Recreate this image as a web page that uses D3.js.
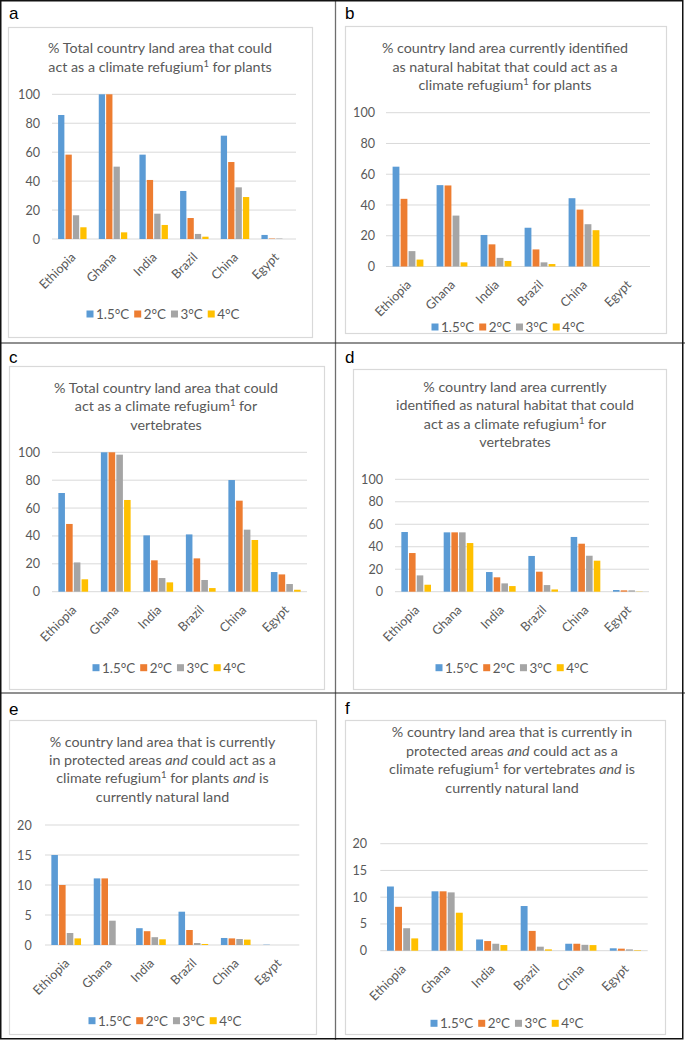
<!DOCTYPE html>
<html><head><meta charset="utf-8">
<script src="https://cdn.jsdelivr.net/npm/d3@7"></script>
<style>body{margin:0;background:#fff} svg{display:block}</style>
</head><body>
<svg id="chart" width="685" height="1040"></svg>
<script>
const categories = ["Ethiopia", "Ghana", "India", "Brazil", "China", "Egypt"];
const scenarios = ["1.5°C", "2°C", "3°C", "4°C"];
const seriesColors = ["#5B9BD5", "#ED7D31", "#A5A5A5", "#FFC000"];

// rows: 1.5°C, 2°C, 3°C, 4°C ; columns follow categories
const valuesA = [
  [85.7, 100, 58.3, 33.2, 71.4, 2.8],
  [58.3, 100, 40.8, 14.5, 53.2, 0.3],
  [16.4, 50, 17.5, 3.5, 35.7, 0.3],
  [8.1, 4.6, 9.7, 1.6, 29, 0]
];
const valuesB = [
  [64.9, 52.9, 20.5, 25.2, 44.4, 0],
  [44, 52.7, 14.4, 11.1, 37, 0],
  [10, 33.1, 5.6, 2.7, 27.5, 0],
  [4.5, 2.7, 3.6, 1.6, 23.6, 0]
];
const valuesC = [
  [70.8, 100, 40.4, 41.1, 80.1, 14.1],
  [48.6, 100, 22.5, 23.9, 65.3, 12.4],
  [21, 98.3, 9.8, 8.4, 44.5, 5.5],
  [8.9, 65.8, 6.7, 2.6, 37.1, 1.4]
];
const valuesD = [
  [53.1, 52.8, 17.5, 31.8, 48.7, 1.5],
  [34.4, 52.8, 12.8, 17.8, 42.7, 1.2],
  [14.5, 52.8, 7.4, 5.9, 32, 1.2],
  [6.2, 43.3, 5, 2, 27.6, 0.2]
];
const valuesE = [
  [15, 11.1, 2.8, 5.55, 1.17, 0.05],
  [10, 11.1, 2.3, 2.5, 1.1, 0],
  [2, 4.05, 1.3, 0.33, 1.0, 0],
  [1.1, 0, 0.95, 0.17, 0.9, 0]
];
const valuesF = [
  [12, 11.1, 2.1, 8.35, 1.3, 0.45],
  [8.2, 11.1, 1.8, 3.7, 1.3, 0.38],
  [4.2, 10.9, 1.3, 0.75, 1.1, 0.25],
  [2.3, 7.1, 1.06, 0.25, 1.05, 0.1]
];
const ticksPct = [0, 20, 40, 60, 80, 100];
const ticksSmall = [0, 5, 10, 15, 20];

const titleA = [
  [{t: "% Total country land area that could"}],
  [{t: "act as a climate refugium"}, {t: "1", sup: true}, {t: " for plants"}]
];
const titleB = [
  [{t: "% country land area currently identified"}],
  [{t: "as natural habitat that could act as a"}],
  [{t: "climate refugium"}, {t: "1", sup: true}, {t: " for plants"}]
];
const titleC = [
  [{t: "% Total country land area that could"}],
  [{t: "act as a climate refugium"}, {t: "1", sup: true}, {t: " for"}],
  [{t: "vertebrates"}]
];
const titleD = [
  [{t: "% country land area currently"}],
  [{t: "identified as natural habitat that could"}],
  [{t: "act as a climate refugium"}, {t: "1", sup: true}, {t: " for"}],
  [{t: "vertebrates"}]
];
const titleE = [
  [{t: "% country land area that is currently"}],
  [{t: "in protected areas "}, {t: "and", it: true}, {t: " could act as a"}],
  [{t: "climate refugium"}, {t: "1", sup: true}, {t: " for plants "}, {t: "and", it: true}, {t: " is"}],
  [{t: "currently natural land"}]
];
const titleF = [
  [{t: "% country land area that is currently in"}],
  [{t: "protected areas "}, {t: "and", it: true}, {t: " could act as a"}],
  [{t: "climate refugium"}, {t: "1", sup: true}, {t: " for vertebrates "}, {t: "and", it: true}, {t: " is"}],
  [{t: "currently natural land"}]
];

const panels = [
  {letter: "a", values: valuesA, title: titleA, ticks: ticksPct, frame: [8, 27, 312, 337], lp: [9, 19],
   tx: 160, ty: [53, 72], px: [52, 296], y0: 239, yTop: 94.3, tickX: 40, legY: 314, legX: 163},
  {letter: "b", values: valuesB, title: titleB, ticks: ticksPct, frame: [345, 26, 666, 333], lp: [345, 19],
   tx: 505, ty: [53, 71.5, 90], px: [386, 650], y0: 266.5, yTop: 112.7, tickX: 375, legY: 327, legX: 508},
  {letter: "c", values: valuesC, title: titleC, ticks: ticksPct, frame: [9, 366, 324, 689], lp: [9, 363],
   tx: 166, ty: [392.5, 411, 429.5], px: [52, 307], y0: 591.7, yTop: 452.3, tickX: 40, legY: 667.7, legX: 169},
  {letter: "d", values: valuesD, title: titleD, ticks: ticksPct, frame: [353, 369, 666, 689], lp: [345, 363],
   tx: 515, ty: [392, 410.3, 428.7, 447], px: [395, 649], y0: 591.7, yTop: 479.3, tickX: 383, legY: 667.7, legX: 512},
  {letter: "e", values: valuesE, title: titleE, ticks: ticksSmall, frame: [9, 720, 316, 1034], lp: [9, 715],
   tx: 162.5, ty: [746.7, 765, 783.3, 801.7], px: [45, 299.3], y0: 945, yTop: 825, tickX: 31.7, legY: 1020.7, legX: 165},
  {letter: "f", values: valuesF, title: titleF, ticks: ticksSmall, frame: [345, 720, 665, 1034], lp: [345, 714],
   tx: 512, ty: [737.3, 755.7, 774, 792.7], px: [380.3, 647.7], y0: 950.7, yTop: 843.7, tickX: 367, legY: 1023.3, legX: 507}
];

const FONT = "Lato, 'Open Sans', sans-serif";
const TXT = "#595959";
const GRID = "#d9d9d9";
const svg = d3.select("#chart");

svg.append("rect").attr("width", 685).attr("height", 1040).attr("fill", "#fff");

panels.forEach(p => {
  const g = svg.append("g");
  const f = p.frame;
  g.append("rect").attr("x", f[0] + 0.5).attr("y", f[1] + 0.5)
    .attr("width", f[2] - f[0]).attr("height", f[3] - f[1])
    .attr("fill", "#fff").attr("stroke", GRID).attr("stroke-width", 1.2);

  g.append("text").attr("x", p.lp[0]).attr("y", p.lp[1])
    .attr("font-family", "'Liberation Sans', Arial, sans-serif").attr("font-size", 17)
    .attr("fill", "#000").text(p.letter);

  p.title.forEach((line, i) => {
    const t = g.append("text").attr("x", p.tx).attr("y", p.ty[i])
      .attr("text-anchor", "middle").attr("font-family", FONT).attr("font-size", 14.3)
      .attr("fill", TXT);
    line.forEach(seg => {
      const ts = t.append("tspan").text(seg.t);
      if (seg.it) ts.attr("font-style", "italic");
      if (seg.sup) ts.attr("font-size", 9.5).attr("baseline-shift", "5");
    });
  });

  const maxV = p.ticks[p.ticks.length - 1];
  const y = d3.scaleLinear().domain([0, maxV]).range([p.y0, p.yTop]);
  const x0 = d3.scaleBand().domain(categories).range(p.px).paddingInner(0.3).paddingOuter(0.15);
  const x1 = d3.scaleBand().domain(scenarios).range([0, x0.bandwidth()]).paddingInner(0.15);

  p.ticks.forEach(v => {
    g.append("line").attr("x1", p.px[0]).attr("x2", p.px[1])
      .attr("y1", y(v)).attr("y2", y(v)).attr("stroke", GRID).attr("stroke-width", 1);
    g.append("text").attr("x", p.tickX).attr("y", y(v)).attr("dy", "0.36em")
      .attr("text-anchor", "end").attr("font-family", FONT).attr("font-size", 12.6)
      .attr("fill", TXT).text(v);
  });

  scenarios.forEach((s, si) => {
    g.selectAll(null).data(categories).enter().append("rect")
      .attr("x", c => x0(c) + x1(s))
      .attr("y", (c, ci) => y(p.values[si][ci]))
      .attr("width", x1.bandwidth())
      .attr("height", (c, ci) => p.y0 - y(p.values[si][ci]))
      .attr("fill", seriesColors[si]);
  });

  categories.forEach(c => {
    const cx = x0(c) + x0.bandwidth() / 2;
    g.append("text")
      .attr("transform", `translate(${cx + 4},${p.y0 + 19}) rotate(-45)`)
      .attr("text-anchor", "end").attr("font-family", FONT).attr("font-size", 12.6)
      .attr("fill", TXT).text(c);
  });

  // legend
  const lg = g.append("g");
  let xpos = 0;
  scenarios.forEach((s, si) => {
    lg.append("rect").attr("x", xpos).attr("y", -3.5).attr("width", 7).attr("height", 7)
      .attr("fill", seriesColors[si]);
    const t = lg.append("text").attr("x", xpos + 9.5).attr("y", 0).attr("dy", "0.36em")
      .attr("font-family", FONT).attr("font-size", 13.4).attr("fill", TXT).text(s);
    xpos += 9.5 + t.node().getComputedTextLength() + 5;
  });
  const w = xpos - 5;
  lg.attr("transform", `translate(${p.legX - w / 2},${p.legY})`);
});

// outer frame and dividers
svg.append("line").attr("x1", 335.5).attr("x2", 335.5).attr("y1", 0).attr("y2", 1040)
  .attr("stroke", "#6e6e6e").attr("stroke-width", 1.3);
[343, 693].forEach(yy => {
  svg.append("line").attr("x1", 0).attr("x2", 685).attr("y1", yy).attr("y2", yy)
    .attr("stroke", "#222").attr("stroke-width", 1.1);
});
svg.append("rect").attr("x", 0.75).attr("y", 0.75).attr("width", 682).attr("height", 1038)
  .attr("fill", "none").attr("stroke", "#111").attr("stroke-width", 1.5);
</script>
</body></html>
